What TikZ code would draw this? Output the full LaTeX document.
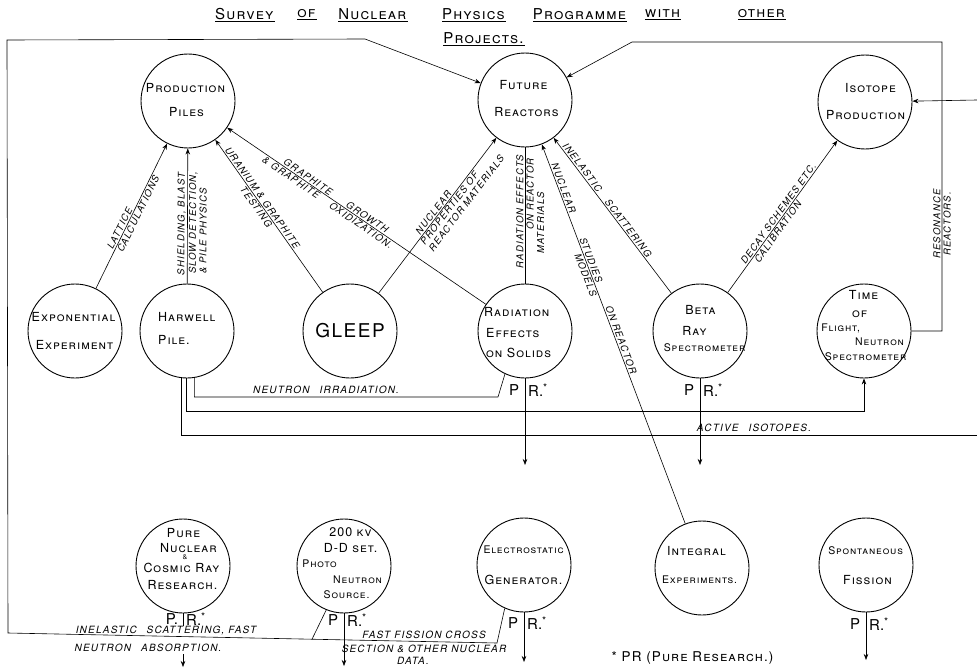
\documentclass[tikz,border=0pt]{standalone}
\usepackage{fontspec}
\setmainfont{TeX Gyre Heros}
\newfontfamily\cfont[LetterSpace=8]{TeX Gyre Heros}
\newfontfamily\lfont[LetterSpace=12]{TeX Gyre Heros}
\usetikzlibrary{arrows.meta}
\begin{document}
\begin{tikzpicture}[x=1pt,y=-1pt,
  unit/.style={circle,draw,line width=0.9pt,minimum size=94pt,inner sep=0pt},
  ct/.style={font=\fontsize{12.5}{14}\cfont,inner sep=0pt},
  cts/.style={font=\fontsize{10.5}{12}\cfont,inner sep=0pt},
  conn/.style={line width=0.6pt},
  arr/.style={conn,-{Stealth[length=6pt,width=4.5pt]}},
  rarr/.style={conn,{Stealth[length=6pt,width=4.5pt]}-},
  lab/.style={font=\fontsize{9.5}{10.5}\lfont\itshape,inner sep=1.2pt,sloped},
  flat/.style={font=\fontsize{10}{11}\lfont\itshape,inner sep=0pt},
  ttl/.style={font=\fontsize{15}{17}\cfont,inner sep=0pt},
  prl/.style={font=\fontsize{15}{15}\selectfont,inner sep=0pt},
]
\useasboundingbox (0,0) rectangle (977,669);
\fill[white] (0,0) rectangle (977,669);

% title
\node[ttl] (t1) at (245,15) {\underline{\textsc{Survey}}};
\node[ttl] (t2) at (307,15) {\underline{\textsc{of}}};
\node[ttl] (t3) at (373,15) {\underline{\textsc{Nuclear}}};
\node[ttl] (t4) at (474,15) {\underline{\textsc{Physics}}};
\node[ttl] (t5) at (580,15) {\underline{\textsc{Programme}}};
\node[ttl] (t6) at (663,15) {\underline{\textsc{with}}};
\node[ttl] (t7) at (762,15) {\underline{\textsc{other}}};
\node[ttl] (t8) at (484,39) {\underline{\textsc{Projects.}}};

% circles
\node[unit] (PP) at (188,101) {};
\node[unit] (FR) at (525,100) {};
\node[unit] (IP) at (865,102) {};
\node[unit] (EXP) at (75,331) {};
\node[unit] (HAR) at (187,331) {};
\node[unit] (GLEEP) at (350,331) {};
\node[unit] (RAD) at (525,331) {};
\node[unit] (BETA) at (700,331) {};
\node[unit] (TOF) at (864,331) {};
\node[unit] (PURE) at (183,566) {};
\node[unit] (DD) at (344,566) {};
\node[unit] (ELEC) at (524,565) {};
\node[unit] (INT) at (702,568) {};
\node[unit] (SPON) at (866,565) {};

% circle texts
\node[ct] (pp1) at (186,88) {\textsc{Production}};
\node[ct] (pp2) at (187,112) {\textsc{Piles}};
\node[ct] (fr1) at (524,85) {\textsc{Future}};
\node[ct] (fr2) at (527,112) {\textsc{Reactors}};
\node[ct] (ip1) at (871,88) {\textsc{Isotope}};
\node[ct] (ip2) at (866,115) {\textsc{Production}};
\node[ct] (ex1) at (74,317) {\textsc{Exponential}};
\node[ct] (ex2) at (75,345) {\textsc{Experiment}};
\node[ct,anchor=west] (ha1) at (158,317) {\textsc{Harwell}};
\node[ct,anchor=west] (ha2) at (158,340) {\textsc{Pile.}};
\node[ct,font=\fontsize{19}{20}\cfont] (gl) at (350,331) {GLEEP};
\node[ct,anchor=west] (ra1) at (484,312) {\textsc{Radiation}};
\node[ct,anchor=west] (ra2) at (486,333) {\textsc{Effects}};
\node[ct,anchor=west] (ra3) at (486,353) {\textsc{on Solids}};
\node[ct] (be1) at (701,310) {\textsc{Beta}};
\node[ct] (be2) at (695,331) {\textsc{Ray}};
\node[cts] (be3) at (705,348) {\textsc{Spectrometer}};
\node[ct] (to1) at (864,295) {\textsc{Time}};
\node[ct] (to2) at (860,314) {\textsc{of}};
\node[cts] (to3) at (841,328) {\textsc{Flight,}};
\node[cts] (to4) at (880,342) {\textsc{Neutron}};
\node[cts] (to5) at (866,357) {\textsc{Spectrometer}};
\node[ct] (pu1) at (184,533) {\textsc{Pure}};
\node[ct] (pu2) at (189,548) {\textsc{Nuclear}};
\node[ct,font=\fontsize{7}{8}\selectfont] (pu3) at (185,557) {\&};
\node[ct] (pu4) at (182,568) {\textsc{Cosmic Ray}};
\node[ct] (pu5) at (183,585) {\textsc{Research.}};
\node[ct] (dd1) at (351,532) {\textsc{200 kv}};
\node[ct] (dd2) at (351,548) {\textsc{D-D set.}};
\node[cts] (dd3) at (320,564) {\textsc{Photo}};
\node[cts] (dd4) at (358,580) {\textsc{Neutron}};
\node[cts] (dd5) at (347,595) {\textsc{Source.}};
\node[cts] (el1) at (524,550) {\textsc{Electrostatic}};
\node[ct] (el2) at (524,580) {\textsc{Generator.}};
\node[ct] (in1) at (697,551) {\textsc{Integral}};
\node[cts] (in2) at (700,580) {\textsc{Experiments.}};
\node[cts] (sp1) at (866,551) {\textsc{Spontaneous}};
\node[ct] (sp2) at (868,580) {\textsc{Fission}};

% connectors to production piles
\draw[arr] (EXP) -- (PP)
  node[lab,pos=0.40,above] {LATTICE}
  node[lab,pos=0.53,below] {CALCULATIONS};
\draw[arr] (HAR) -- (PP)
  node[lab,pos=0.44,above] {SHIELDING, BLAST}
  node[lab,pos=0.45,below,align=left] {SLOW DETECTION,\\\& PILE PHYSICS};
\draw[rarr] (PP) -- (GLEEP)
  node[lab,pos=0.40,above] {URANIUM \& GRAPHITE}
  node[lab,pos=0.42,below] {TESTING};
\draw[rarr] (PP) -- (RAD)
  node[lab,pos=0.41,above] {GRAPHITE\hspace{2em}GROWTH}
  node[lab,pos=0.40,below] {\& GRAPHITE\hspace{1.5em}OXIDIZATION.};

% connectors to future reactors
\draw[arr] (GLEEP) -- (FR)
  node[lab,pos=0.50,above] {NUCLEAR}
  node[lab,pos=0.64,below,align=left] {PROPERTIES OF\\REACTOR MATERIALS};
\draw[conn] (RAD) -- (FR)
  node[lab,pos=0.53,above] {RADIATION EFFECTS}
  node[lab,pos=0.57,below,align=left] {\hspace*{24pt}ON REACTOR\\MATERIALS};
\draw[rarr] (FR) -- (INT)
  node[lab,pos=0.12,above] {NUCLEAR}
  node[lab,pos=0.31,above] {STUDIES}
  node[lab,pos=0.34,below] {MODELS}
  node[lab,pos=0.52,above] {ON REACTOR};
\draw[rarr] (FR) -- (BETA)
  node[lab,pos=0.21,above] {INELASTIC}
  node[lab,pos=0.60,above] {SCATTERING};
\draw[arr] (BETA) -- (IP)
  node[lab,pos=0.50,above] {DECAY SCHEMES ETC.}
  node[lab,pos=0.42,below] {CALIBRATION};

% outer loops
\coordinate (tl1) at (365,39);
\coordinate (tl0) at (7,40);
\coordinate (bl) at (8,633);
\coordinate (br) at (497,643);
\coordinate (bj) at (312,639.2);
\draw[arr] (ELEC.246) -- (br) -- (bl) -- (tl0) -- (tl1) -- (FR);
\draw[conn] (DD.248) -- (bj);

\coordinate (rc1) at (942,331);
\coordinate (rc2) at (942,42);
\coordinate (rc3) at (632,42);
\draw[arr] (TOF.east) -- (rc1) -- (rc2) -- (rc3) -- (FR);
\path (rc1) -- (rc2)
  node[lab,pos=0.37,above] {RESONANCE}
  node[lab,pos=0.37,below] {REACTORS.};
\coordinate (re) at (977,100);
\draw[arr] (re) -- (IP);

% harwell lines
\coordinate (ni) at (498,397);
\draw[conn] (HAR.279) |- (ni) -- (RAD.245);
\node[flat] (nil) at (326,390) {NEUTRON\quad IRRADIATION.};
\coordinate (tf) at (864,411);
\draw[arr] (HAR.269) |- (tf) -- (TOF.south);
\coordinate (ai) at (977,435);
\draw[conn] (HAR.263) |- (ai);
\node[flat] (ail) at (754,428) {ACTIVE\quad ISOTOPES.};

% PR lines
\coordinate (radd) at (525,465);
\draw[arr] (RAD.south) -- (radd);
\node[prl] (rp) at (514,390) {P};
\node[prl] (rr) at (538,390) {R.\textsuperscript{*}};
\coordinate (betd) at (700,465);
\draw[arr] (BETA.south) -- (betd);
\node[prl] (bp) at (689,390) {P};
\node[prl] (br2) at (713,390) {R.\textsuperscript{*}};

\coordinate (pud) at (183,626);
\draw[conn] (PURE.south) -- (pud);
\coordinate (pua) at (183,654);
\coordinate (pub) at (183,667);
\draw[arr] (pua) -- (pub);
\node[prl] (pp) at (172,619) {P.};
\node[prl] (pr) at (196,619) {R.\textsuperscript{*}};
\coordinate (ddd) at (344,666);
\draw[arr] (DD.south) -- (ddd);
\node[prl] (dp) at (333,620) {P};
\node[prl] (dr) at (357,620) {R.\textsuperscript{*}};
\coordinate (eld) at (524,662);
\draw[arr] (ELEC.south) -- (eld);
\node[prl] (ep) at (513,623) {P};
\node[prl] (er) at (537,623) {R.\textsuperscript{*}};
\coordinate (spd) at (866,660);
\draw[arr] (SPON.south) -- (spd);
\node[prl] (sp) at (855,624) {P};
\node[prl] (sr) at (879,624) {R.\textsuperscript{*}};

% bottom labels
\node[flat] (b1) at (166,630) {INELASTIC\quad SCATTERING, FAST};
\node[flat] (b2) at (148,648) {NEUTRON\quad ABSORPTION.};
\node[flat] (b3) at (424,635) {FAST FISSION CROSS};
\node[flat] (b4) at (424,649) {SECTION \& OTHER NUCLEAR};
\node[flat] (b5) at (413,661) {DATA.};

\node[ttl,font=\fontsize{13.5}{15}\cfont] (foot) at (693,658) {\textsc{* PR (Pure Research.)}};
\end{tikzpicture}
\end{document}
